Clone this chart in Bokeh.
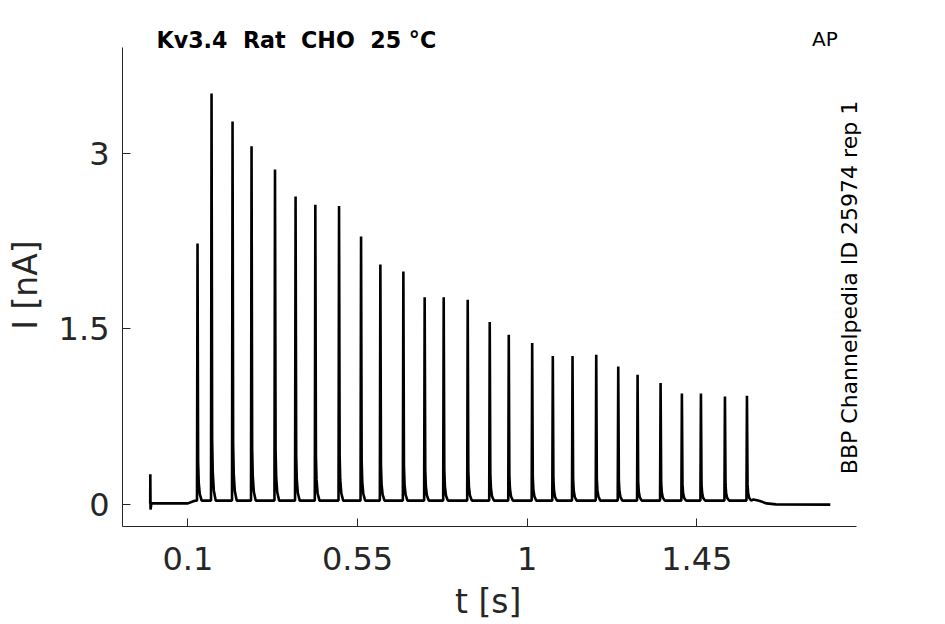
import numpy as np
from bokeh.plotting import figure
from bokeh.models import Range1d, FixedTicker, Label
from bokeh.embed import file_html
from bokeh.resources import INLINE

# ---- data ----
x_ticks = [0.1, 0.55, 1.0, 1.45]
x_tick_labels = ["0.1", "0.55", "1", "1.45"]
y_ticks = [0.0, 1.5, 3.0]
y_tick_labels = ["0", "1.5", "3"]

# visible axis extents
x_axis_bounds = (-0.0735, 1.8744)
y_axis_bounds = (-0.185, 3.902)

# onset transient and pre-pulse baseline
pre_t = [0.0, 0.0003, 0.0009, 0.003, 0.10, 0.118]
pre_i = [0.01, 0.26, -0.04, 0.012, 0.012, 0.035]

# spike times [s] and peak currents [nA]
spike_t = [0.1255, 0.1627, 0.2184, 0.2688, 0.3310, 0.3856, 0.4380, 0.5009,
           0.5593, 0.6105, 0.6715, 0.7280, 0.7785, 0.8422, 0.9006, 0.9511,
           1.0132, 1.0679, 1.1202, 1.1831, 1.2415, 1.2928, 1.3538, 1.4103,
           1.4608, 1.5245, 1.5829]
spike_peak = [2.23, 3.51, 3.27, 3.06, 2.86, 2.63, 2.56, 2.55,
              2.29, 2.05, 1.99, 1.77, 1.77, 1.75, 1.56, 1.45,
              1.38, 1.27, 1.27, 1.28, 1.18, 1.11, 1.04, 0.95,
              0.95, 0.925, 0.93]
pulse_base = 0.036

# post-pulse tail
post_t = [1.600, 1.615, 1.635, 1.660, 1.804]
post_i = [0.045, 0.035, 0.012, 0.004, 0.002]

# spike shape template (time offsets and fraction of spike amplitude)
shape_dt = [-0.0014, 0.0, 0.0016, 0.0032, 0.0060, 0.0110]
shape_fr = [0.0, 1.0, 0.15, 0.07, 0.025, 0.0]

ts = list(pre_t)
cs = list(pre_i)
for t0, pk in zip(spike_t, spike_peak):
    for dt, fr in zip(shape_dt, shape_fr):
        ts.append(t0 + dt)
        cs.append(pulse_base + (pk - pulse_base) * fr)
ts += post_t
cs += post_i

AX = "#262626"
FONT = "DejaVu Sans"

W, H = 940, 624
p = figure(width=W, height=H,
           x_range=Range1d(-0.0735, 1.9106), y_range=Range1d(-0.185, 4.132),
           output_backend="svg", toolbar_location=None,
           min_border_left=122, min_border_right=W - 870,
           min_border_top=20, min_border_bottom=H - 526)
p.outline_line_color = None
p.grid.visible = False
p.background_fill_color = "white"
p.border_fill_color = "white"

p.line(ts, cs, line_color="black", line_width=2.6)

for ax in (p.xaxis, p.yaxis):
    ax.axis_line_color = AX
    ax.major_tick_line_color = AX
    ax.minor_tick_line_color = None
    ax.major_tick_in = 8
    ax.major_tick_out = 0
    ax.major_label_text_font = FONT
    ax.major_label_text_font_size = "32px"
    ax.major_label_text_color = AX
    ax.axis_label_text_font = FONT
    ax.axis_label_text_font_size = "33px"
    ax.axis_label_text_font_style = "normal"
    ax.axis_label_text_color = AX

p.xaxis.bounds = x_axis_bounds
p.yaxis.bounds = y_axis_bounds
p.xaxis.ticker = FixedTicker(ticks=x_ticks)
p.xaxis.major_label_overrides = {v: s for v, s in zip(x_ticks, x_tick_labels)}
p.yaxis.ticker = FixedTicker(ticks=y_ticks)
p.yaxis.major_label_overrides = {v: s for v, s in zip(y_ticks, y_tick_labels)}
# trailing spaces centre the visible labels on the drawn axis lines
p.xaxis.axis_label = "t [s]\u2002"
p.yaxis.axis_label = "I [nA]\u2002\u2009"
p.xaxis.major_label_standoff = 20
p.yaxis.major_label_standoff = 13
p.xaxis.axis_label_standoff = 9
p.yaxis.axis_label_standoff = 11

p.add_layout(Label(x=0.0167, y=3.968, text="Kv3.4 \u00a0Rat \u00a0CHO \u00a025 °C",
                   text_font=FONT, text_font_size="22.2px", text_font_style="bold",
                   text_color="black", text_baseline="alphabetic", text_align="left"))
p.add_layout(Label(x=1.7554, y=3.978, text="AP",
                   text_font=FONT, text_font_size="20px",
                   text_color="black", text_baseline="alphabetic", text_align="left"))
p.add_layout(Label(x=1.856, y=1.854, text="BBP Channelpedia ID 25974 rep 1",
                   angle=np.pi / 2, text_font=FONT, text_font_size="22px",
                   text_color="black", text_baseline="alphabetic", text_align="center"))

open("out.html", "w").write(file_html(p, INLINE))
